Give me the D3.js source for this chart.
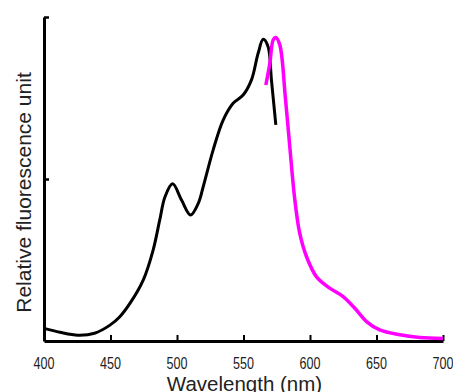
<!DOCTYPE html>
<html>
<head>
<meta charset="utf-8">
<script src="https://cdn.jsdelivr.net/npm/d3@7/dist/d3.min.js"></script>
<style>
html,body{margin:0;padding:0;background:#fff;}
svg{display:block;}
text{font-family:"Liberation Sans",Arial,Helvetica,sans-serif;fill:#222;}
</style>
</head>
<body>
<svg id="chart" width="453" height="392"></svg>
<script>
// Excitation spectrum (black)
const exWavelength = [400, 412, 425.5, 438, 449.6, 457, 464.6, 474.6, 482, 487, 491, 496.7, 503.4, 510.2, 516, 519.7, 527.2, 534.7, 542.2, 549.7, 556, 561, 564.8, 568.5, 571, 574.3];
const exIntensity  = [0.039, 0.027, 0.018, 0.024, 0.049, 0.075, 0.116, 0.188, 0.28, 0.373, 0.445, 0.485, 0.435, 0.389, 0.425, 0.476, 0.59, 0.682, 0.734, 0.759, 0.806, 0.888, 0.931, 0.908, 0.806, 0.667];
// Emission spectrum (magenta)
const emWavelength = [566.8, 569.8, 572.3, 574.3, 577.3, 581.5, 584.8, 588.6, 592.3, 597.4, 604.9, 614.9, 624.9, 633.7, 642.5, 652.4, 667.5, 682.5, 700];
const emIntensity  = [0.79, 0.857, 0.929, 0.937, 0.914, 0.75, 0.6, 0.435, 0.332, 0.26, 0.198, 0.163, 0.137, 0.101, 0.06, 0.034, 0.019, 0.011, 0.008];
// Axis ticks
const xTicks = [400, 450, 500, 550, 600, 650, 700];
const yTicks = [0.5, 1];
const xTitle = "Wavelength (nm)";
const yTitle = "Relative fluorescence unit";

const svg = d3.select("#chart");
const x = d3.scaleLinear().domain([400, 700]).range([44, 443]);
const y = d3.scaleLinear().domain([0, 1]).range([341, 17]);

// Y axis
const yAxis = d3.axisRight(y).tickValues(yTicks).tickSize(5).tickFormat("").tickSizeOuter(0);
const gy = svg.append("g").attr("transform", `translate(${x(400)},0)`).call(yAxis);
gy.select(".domain").attr("stroke", "#000").attr("stroke-width", 3);
gy.selectAll(".tick line").attr("stroke", "#000").attr("stroke-width", 2.5);

// X axis
const xAxis = d3.axisTop(x).tickValues(xTicks).tickSize(6).tickFormat("").tickSizeOuter(0);
const gx = svg.append("g").attr("transform", `translate(0,${y(0)})`).call(xAxis);
gx.select(".domain").attr("stroke", "#000").attr("stroke-width", 3);
gx.selectAll(".tick line").attr("stroke", "#000").attr("stroke-width", 2);

// X tick labels
svg.append("g").selectAll("text").data(xTicks).join("text")
  .attr("x", d => x(d))
  .attr("y", 369)
  .attr("text-anchor", "middle")
  .attr("font-size", 16)
  .attr("textLength", 21)
  .attr("lengthAdjust", "spacingAndGlyphs")
  .text(d => d);

// Titles
svg.append("text")
  .attr("x", 244.5).attr("y", 391)
  .attr("text-anchor", "middle")
  .attr("font-size", 20.5)
  .text(xTitle);
svg.append("text")
  .attr("transform", "translate(31,192.5) rotate(-90)")
  .attr("text-anchor", "middle")
  .attr("font-size", 21)
  .text(yTitle);

const line = d3.line().x(d => x(d[0])).y(d => y(d[1])).curve(d3.curveCatmullRom.alpha(0.5));
const ex = exWavelength.map((w, i) => [w, exIntensity[i]]);
const em = emWavelength.map((w, i) => [w, emIntensity[i]]);

svg.append("path").datum(ex).attr("d", line)
  .attr("fill", "none").attr("stroke", "#000").attr("stroke-width", 3).attr("stroke-linejoin", "round");
svg.append("path").datum(em).attr("d", line)
  .attr("fill", "none").attr("stroke", "#ff00ff").attr("stroke-width", 3.5).attr("stroke-linejoin", "round");
</script>
</body>
</html>
